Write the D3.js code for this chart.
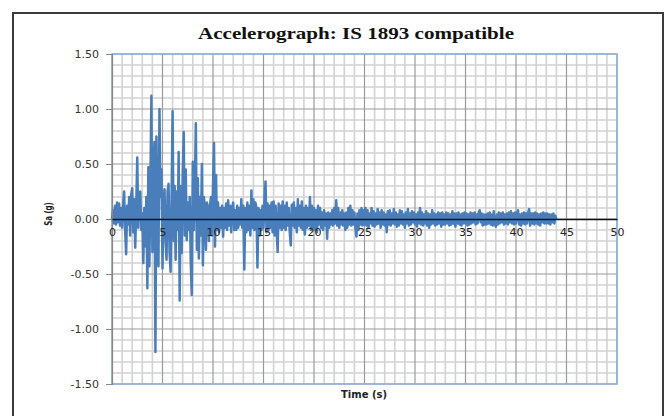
<!DOCTYPE html>
<html>
<head>
<meta charset="utf-8">
<script src="https://cdn.jsdelivr.net/npm/d3@7/dist/d3.min.js"></script>
<style>
  html, body { margin: 0; padding: 0; background: #fff; }
  svg { display: block; }
</style>
</head>
<body>
<svg id="chart" width="665" height="416"></svg>
<script>
// Ground acceleration record, sampled every 0.1 s (Sa in g)
const sampleInterval = 0.1;
const accel = [
  // 0 - 4.9 s
  0.00, 0.08, -0.04, 0.12, -0.05, 0.15, -0.03, 0.14, -0.06, 0.10,
  -0.08, 0.13, 0.25, -0.10, -0.32, 0.12, -0.05, 0.20, -0.15, 0.22,
  0.28, -0.12, 0.18, -0.26, 0.10, 0.56, -0.08, 0.20, 0.25, -0.10,
  0.05, -0.40, 0.10, -0.25, 0.20, -0.63, 0.47, -0.43, 0.30, 1.12,
  -0.30, 0.40, 0.70, -1.21, 0.75, -0.20, -0.43, 1.00, 0.20, 0.45,
  // 5 - 9.9 s
  -0.45, 0.15, 0.27, -0.20, -0.37, 0.25, 0.32, -0.30, -0.48, 0.20,
  0.98, -0.20, 0.30, -0.37, 0.25, -0.10, 0.61, -0.74, 0.30, -0.31,
  0.40, 0.79, -0.15, 0.45, -0.19, 0.15, -0.10, 0.20, -0.40, -0.69,
  0.52, -0.10, 0.25, 0.87, -0.28, 0.37, -0.36, 0.20, -0.15, 0.50,
  -0.42, 0.20, 0.10, -0.28, 0.15, 0.10, -0.20, 0.12, 0.20, -0.15,
  // 10 - 14.9 s
  0.30, 0.69, -0.25, 0.40, -0.10, 0.15, -0.12, 0.10, -0.08, 0.12,
  -0.16, 0.10, -0.08, 0.14, -0.10, 0.17, -0.06, 0.12, -0.12, 0.10,
  0.15, -0.10, 0.08, -0.10, 0.12, -0.08, 0.10, -0.05, 0.18, -0.08,
  0.12, -0.46, 0.10, -0.12, 0.15, -0.10, 0.12, -0.15, 0.26, -0.08,
  0.18, -0.10, 0.15, 0.10, -0.44, 0.10, -0.15, 0.08, -0.10, 0.12,
  // 15 - 19.9 s
  -0.08, 0.15, 0.34, -0.12, 0.14, -0.10, 0.12, -0.08, 0.15, -0.12,
  0.16, -0.15, 0.12, -0.10, -0.30, 0.14, -0.08, 0.12, -0.10, 0.16,
  -0.08, 0.12, -0.10, 0.15, -0.06, 0.10, -0.12, -0.24, 0.13, -0.06,
  0.15, -0.08, 0.10, -0.12, 0.18, -0.06, 0.12, -0.08, 0.16, -0.10,
  0.10, -0.14, 0.12, -0.08, 0.10, -0.06, 0.20, -0.10, 0.12, -0.08,
  // 20 - 24.9 s
  0.10, -0.10, 0.08, -0.12, 0.12, -0.05, 0.10, -0.08, 0.06, -0.10,
  0.08, -0.06, 0.05, -0.18, 0.06, -0.08, 0.05, -0.05, 0.08, -0.06,
  0.10, -0.04, 0.17, -0.06, 0.10, -0.08, 0.06, -0.05, 0.08, -0.06,
  0.05, -0.10, 0.06, -0.08, 0.10, -0.05, 0.12, -0.06, 0.08, -0.05,
  0.06, -0.08, -0.16, 0.05, -0.10, 0.08, -0.05, 0.10, -0.06, 0.08,
  // 25 - 29.9 s
  -0.05, 0.10, -0.06, 0.08, -0.08, 0.05, -0.04, 0.10, -0.06, 0.07,
  -0.07, 0.05, -0.05, 0.09, -0.04, 0.06, -0.08, 0.08, -0.05, 0.06,
  -0.06, 0.04, -0.12, 0.07, -0.05, 0.08, -0.06, 0.05, -0.04, 0.09,
  -0.05, 0.06, -0.07, 0.04, -0.06, 0.08, -0.04, 0.07, -0.05, 0.04,
  -0.08, 0.06, -0.04, 0.09, -0.06, 0.05, -0.05, 0.07, -0.03, 0.06,
  // 30 - 34.9 s
  -0.05, 0.04, -0.07, 0.06, -0.04, 0.10, -0.05, 0.06, -0.06, 0.04,
  -0.04, 0.07, -0.06, 0.05, -0.08, 0.04, -0.05, 0.08, -0.04, 0.05,
  -0.06, 0.04, -0.05, 0.06, -0.04, 0.05, -0.07, 0.06, -0.05, 0.04,
  -0.05, 0.06, -0.04, 0.05, -0.06, 0.04, -0.05, 0.07, -0.04, 0.05,
  -0.07, 0.05, -0.04, 0.06, -0.05, 0.04, -0.06, 0.05, -0.04, 0.06,
  // 35 - 39.9 s
  -0.04, 0.05, -0.06, 0.04, -0.05, 0.06, -0.04, 0.05, -0.03, 0.06,
  -0.05, 0.04, -0.04, 0.06, 0.08, -0.03, 0.05, -0.06, 0.04, -0.05,
  0.04, -0.05, 0.05, -0.04, 0.06, -0.05, 0.04, -0.06, 0.07, -0.04,
  -0.07, 0.04, -0.05, 0.06, -0.04, 0.05, -0.03, 0.06, -0.05, 0.04,
  -0.04, 0.05, -0.05, 0.06, -0.03, 0.07, -0.04, 0.05, -0.05, 0.06,
  // 40 - 44 s
  -0.04, 0.05, 0.08, -0.05, 0.04, -0.06, 0.05, -0.04, 0.06, -0.05,
  0.05, -0.04, 0.06, 0.09, -0.06, 0.05, -0.04, 0.05, -0.05, 0.06,
  -0.04, 0.05, -0.05, 0.04, -0.06, 0.05, -0.03, 0.06, -0.04, 0.05,
  -0.04, 0.05, -0.04, 0.04, -0.05, 0.04, -0.03, 0.05, -0.04, 0.03,
  0.00
];

const xTickValues = [0, 5, 10, 15, 20, 25, 30, 35, 40, 45, 50];
const yTickValues = [-1.5, -1.0, -0.5, 0.0, 0.5, 1.0, 1.5];
const chartTitle = "Accelerograph: IS 1893 compatible";
const xAxisTitle = "Time (s)";
const yAxisTitle = "Sa (g)";

const svg = d3.select("#chart");
const plot = { left: 112, right: 617, top: 54, bottom: 384 };

const x = d3.scaleLinear().domain([0, 50]).range([plot.left, plot.right]);
const y = d3.scaleLinear().domain([-1.5, 1.5]).range([plot.bottom, plot.top]);

// plain hyphen for negative labels, two decimals
const fmt2 = d3.format(".2f");
const yLabel = d => fmt2(d).replace("\u2212", "-");

// outer chart frame
svg.append("rect")
  .attr("x", 13).attr("y", 13)
  .attr("width", 650).attr("height", 420)
  .attr("fill", "#fff")
  .attr("stroke", "#3a3a3a")
  .attr("stroke-width", 2);

// minor gridlines: every 1 s and every 0.1 g
const minorX = d3.range(0, 51, 1).filter(v => v % 5 !== 0);
const minorY = d3.range(-15, 16, 1).filter(v => v % 5 !== 0).map(v => v / 10);
const grid = svg.append("g");
grid.selectAll(".mx").data(minorX).join("line")
  .attr("x1", d => x(d)).attr("x2", d => x(d))
  .attr("y1", plot.top).attr("y2", plot.bottom)
  .attr("stroke", "#d2d2d2").attr("stroke-width", 1.6);
grid.selectAll(".my").data(minorY).join("line")
  .attr("x1", plot.left).attr("x2", plot.right)
  .attr("y1", d => y(d)).attr("y2", d => y(d))
  .attr("stroke", "#d2d2d2").attr("stroke-width", 1.6);

// major gridlines
grid.selectAll(".Mx").data(xTickValues).join("line")
  .attr("x1", d => x(d)).attr("x2", d => x(d))
  .attr("y1", plot.top).attr("y2", plot.bottom)
  .attr("stroke", "#9a9a9a").attr("stroke-width", 1.2);
grid.selectAll(".My").data(yTickValues).join("line")
  .attr("x1", plot.left).attr("x2", plot.right)
  .attr("y1", d => y(d)).attr("y2", d => y(d))
  .attr("stroke", "#9a9a9a").attr("stroke-width", 1.2);

// plot area border
svg.append("rect")
  .attr("x", plot.left).attr("y", plot.top)
  .attr("width", plot.right - plot.left).attr("height", plot.bottom - plot.top)
  .attr("fill", "none")
  .attr("stroke", "#8fb0d9").attr("stroke-width", 1.5);

// acceleration trace
const line = d3.line()
  .x((d, i) => x(i * sampleInterval))
  .y(d => y(d));
svg.append("path")
  .datum(accel)
  .attr("d", line)
  .attr("fill", "none")
  .attr("stroke", "#4a7ebb")
  .attr("stroke-width", 2.5)
  .attr("stroke-linejoin", "round");

// y axis
const yAxis = svg.append("g")
  .attr("transform", `translate(${plot.left},0)`)
  .call(d3.axisLeft(y).tickValues(yTickValues).tickFormat(yLabel)
    .tickSize(6).tickPadding(7));
yAxis.select(".domain").attr("stroke", "#868686").attr("stroke-width", 1.2);
yAxis.selectAll(".tick line").attr("stroke", "#868686");
yAxis.selectAll("text")
  .attr("font-family", "DejaVu Sans").attr("font-size", 11)
  .attr("fill", "#333");

// x axis along the zero line
const xAxis = svg.append("g")
  .attr("transform", `translate(0,${y(0)})`)
  .call(d3.axisBottom(x).tickValues(xTickValues).tickFormat(d3.format("d"))
    .tickSize(0).tickPadding(9));
xAxis.select(".domain").attr("stroke", "#111").attr("stroke-width", 1.5);
xAxis.selectAll("text")
  .attr("font-family", "DejaVu Sans").attr("font-size", 11)
  .attr("fill", "#222");

// titles
svg.append("text")
  .attr("x", 198).attr("y", 39)
  .attr("font-family", "Liberation Serif").attr("font-weight", "bold")
  .attr("font-size", 16.5)
  .attr("textLength", 316).attr("lengthAdjust", "spacingAndGlyphs")
  .attr("fill", "#111")
  .text(chartTitle);

svg.append("text")
  .attr("x", 364).attr("y", 398)
  .attr("text-anchor", "middle")
  .attr("font-family", "DejaVu Sans").attr("font-weight", "bold")
  .attr("font-size", 10)
  .attr("fill", "#222")
  .text(xAxisTitle);

svg.append("text")
  .attr("transform", "translate(52,214) rotate(-90) scale(1,1.4)")
  .attr("text-anchor", "middle")
  .attr("font-family", "DejaVu Sans").attr("font-weight", "bold")
  .attr("font-size", 7)
  .attr("fill", "#222")
  .text(yAxisTitle);
</script>
</body>
</html>
